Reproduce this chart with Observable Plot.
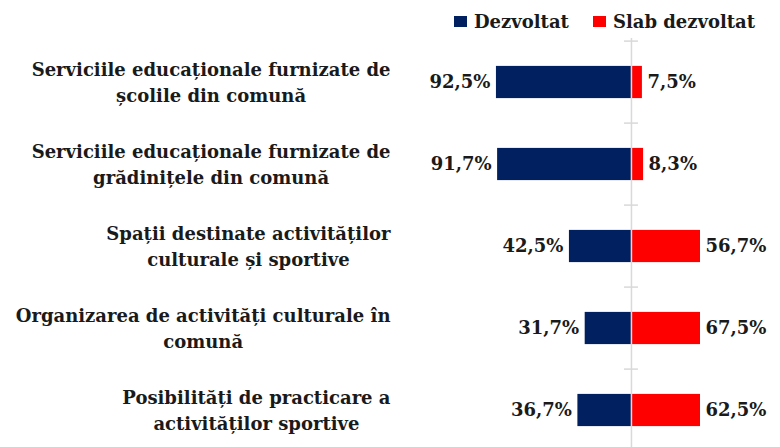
<!DOCTYPE html>
<html>
<head>
<meta charset="utf-8">
<script src="https://cdn.jsdelivr.net/npm/d3@7"></script>
<script src="https://cdn.jsdelivr.net/npm/@observablehq/plot@0.6"></script>
<style>
  html, body { margin: 0; padding: 0; background: #fff; }
  #wrap { position: relative; width: 780px; height: 447px; overflow: hidden; }
  #legend { position: absolute; top: 11px; left: 454px; display: flex; align-items: center;
            font: bold 18px "DejaVu Serif", serif; color: #1a1a1a; white-space: nowrap; }
  #legend .sw { display: inline-block; width: 13px; height: 11px; margin-right: 7px; }
  #legend .item { display: flex; align-items: center; margin-right: 24px; }
</style>
</head>
<body>
<div id="wrap">
  <div id="chart"></div>
  <div id="legend"></div>
</div>
<script>
// ---- data ----
const categories = [
  "Serviciile educaționale furnizate de\nșcolile din comună",
  "Serviciile educaționale furnizate de\ngrădinițele din comună",
  "Spații destinate activităților\nculturale și sportive",
  "Organizarea de activități culturale în\ncomună",
  "Posibilități de practicare a\nactivităților sportive"
];
const dezvoltat = [92.5, 91.7, 42.5, 31.7, 36.7];
const slabDezvoltat = [7.5, 8.3, 56.7, 67.5, 62.5];
const seriesNames = ["Dezvoltat", "Slab dezvoltat"];
const seriesColors = ["#002060", "#FF0000"];

// ---- layout ----
const W = 780, H = 447;
const xDomain = [-100, 47.3];          // right side is cut off in the original chart
const xRange = [485, 700];
const yRange = [38.5, 452.5];
const bandW = (yRange[1] - yRange[0]) / categories.length;
const barH = 33;
const inset = (bandW - barH) / 2;
const labelSize = 18;
const labelRight = 390;

const rows = categories.map((c, i) => ({cat: c, dez: dezvoltat[i], slab: slabDezvoltat[i]}));
const fmt = v => v.toFixed(1).replace(".", ",") + "%";

// measure text widths for Excel-like centred-in-block, right-aligned labels
const ctx = document.createElement("canvas").getContext("2d");
ctx.font = `bold ${labelSize}px "DejaVu Serif"`;
const blockWidth = c => Math.max(...c.split("\n").map(s => ctx.measureText(s).width));

const labelMarks = categories.map(c => Plot.text([c], {
  y: d => d, text: d => d,
  frameAnchor: "left", textAnchor: "middle", lineAnchor: "middle",
  lineHeight: 1.45,
  dx: labelRight - blockWidth(c) / 2, dy: -2,
  fontFamily: "DejaVu Serif", fontWeight: "bold", fontSize: labelSize, fill: "#1a1a1a"
}));

const chart = Plot.plot({
  width: W, height: H,
  marginTop: 38, marginBottom: 0, marginLeft: 0, marginRight: W - xRange[1],
  x: {type: "linear", domain: xDomain, range: xRange, axis: null},
  y: {domain: categories, range: yRange, padding: 0, axis: null},
  style: {fontFamily: "DejaVu Serif", background: "#fff", overflow: "visible"},
  marks: [
    Plot.barX(rows, {y: "cat", x1: 0, x2: d => -d.dez, fill: seriesColors[0],
      insetTop: inset, insetBottom: inset}),
    Plot.barX(rows, {y: "cat", x1: 0, x2: d => d.slab, fill: seriesColors[1],
      insetTop: inset, insetBottom: inset, clip: true}),
    Plot.ruleX([0], {stroke: "#d9d9d9", strokeWidth: 1.5}),
    Plot.ruleY(categories, {y: d => d, x1: 0, x2: 0, dy: -bandW / 2,
      insetLeft: -7, insetRight: -7, stroke: "#d9d9d9", strokeWidth: 1.5}),
    Plot.text(rows, {y: "cat", x: d => -d.dez, text: d => fmt(d.dez), textAnchor: "end", dx: -6,
      fontSize: 18, fontWeight: "bold", fill: "#1a1a1a"}),
    Plot.text(rows, {y: "cat", x: d => Math.min(d.slab, xDomain[1]), text: d => fmt(d.slab),
      textAnchor: "start", dx: 5, fontSize: 18, fontWeight: "bold", fill: "#1a1a1a"}),
    ...labelMarks
  ]
});
document.getElementById("chart").appendChild(chart);

const legend = document.getElementById("legend");
seriesNames.forEach((n, i) => {
  const it = document.createElement("span");
  it.className = "item";
  it.innerHTML = `<span class="sw" style="background:${seriesColors[i]}"></span>${n}`;
  legend.appendChild(it);
});
</script>
</body>
</html>
